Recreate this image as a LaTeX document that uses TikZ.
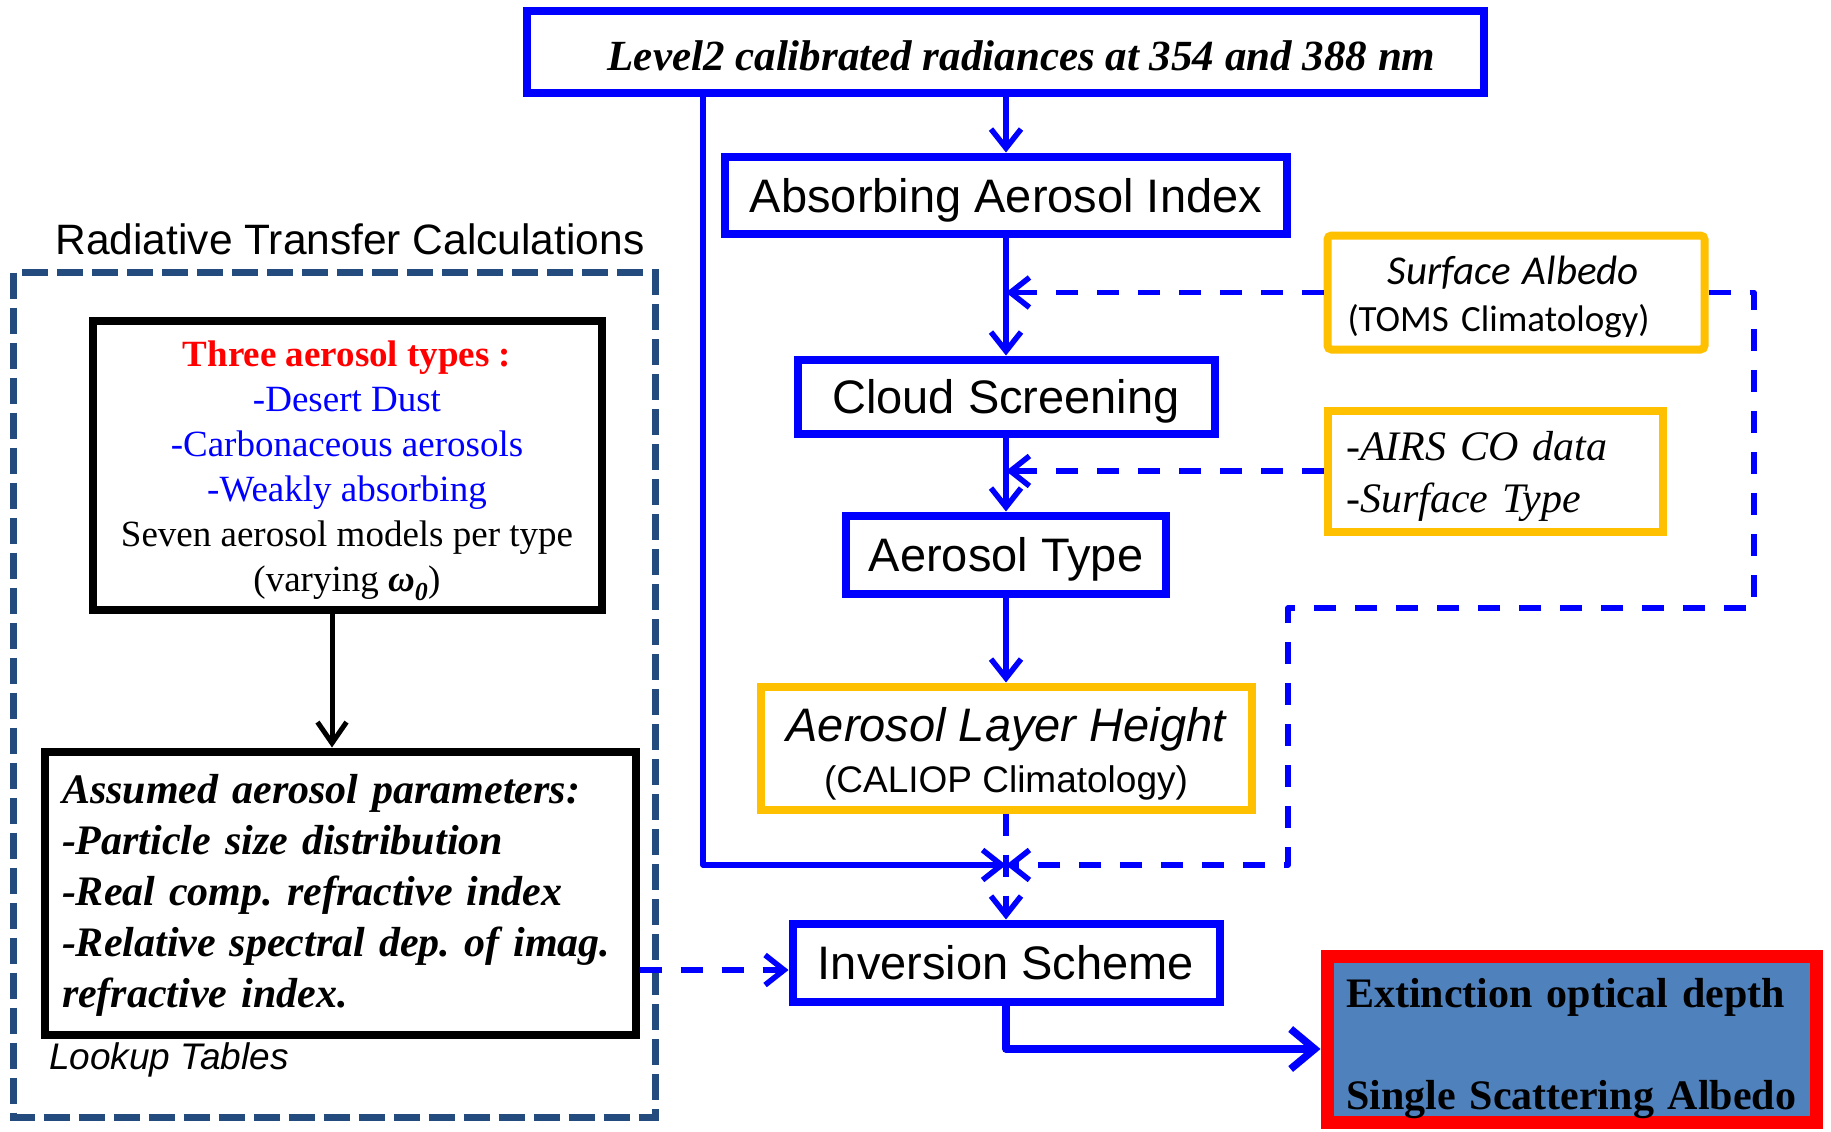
\documentclass[tikz,border=0pt]{standalone}
\usepackage{fontspec}
\setmainfont{Liberation Serif}
\newfontfamily\arialf{Liberation Sans}
\newfontfamily\calibrif{Carlito}
\usetikzlibrary{arrows.meta}
\definecolor{boxblue}{RGB}{0,0,255}
\definecolor{orng}{RGB}{255,192,0}
\definecolor{navyd}{RGB}{36,75,125}
\definecolor{steelb}{RGB}{79,129,189}
\definecolor{redc}{RGB}{255,0,0}
\frenchspacing
\begin{document}
\begin{tikzpicture}[x=1pt,y=-1pt,
  bluebox/.style={draw=boxblue, line width=8pt, fill=white, inner sep=0pt, text depth=0pt, font=\arialf\fontsize{47}{56}\selectfont},
  orbox/.style={draw=orng, line width=8pt, fill=white, inner sep=0pt},
  kbox/.style={draw=black, line width=8pt, fill=white, inner sep=0pt},
  conn/.style={draw=boxblue, line width=5.5pt, -{Straight Barb[length=19pt,width=30pt]}},
  dconn/.style={conn, line width=5.5pt, dash pattern=on 22pt off 19pt},
  bigconn/.style={draw=boxblue, line width=7.5pt, line join=round, -{Straight Barb[length=24pt,width=40pt]}},
  karrow/.style={draw=black, line width=5pt, -{Straight Barb[length=21pt,width=29pt]}}
]
\useasboundingbox (0,0) rectangle (1831,1132);
\fill[white] (0,0) rectangle (1831,1132);

% left dashed frame
\draw[navyd, line width=6.5pt, dash pattern=on 26pt off 9pt] (13.5,272.5) rectangle (655.5,1117.5);
\node[font=\arialf\fontsize{42.5}{50}\selectfont] (rtc) at (350,239) {Radiative Transfer Calculations};

% main column
\node[bluebox, minimum width=957pt, minimum height=82pt, text height=37pt, font=\bfseries\itshape\fontsize{43}{50}\selectfont] (top) at (1005.5,52) {\hspace*{32pt}Level2 calibrated radiances at 354 and 388 nm};
\node[bluebox, minimum width=562pt, minimum height=77pt] (aai) at (1006,195) {Absorbing Aerosol Index};
\node[bluebox, minimum width=417pt, minimum height=74pt] (cloud) at (1006,396.5) {Cloud Screening};
\node[bluebox, minimum width=320pt, minimum height=78pt] (atype) at (1006,554.5) {Aerosol Type};
\node[orbox, minimum width=491pt, minimum height=123pt, align=center, font=\arialf\fontsize{47}{51}\selectfont] (alh) at (1006,748) {\rule{0pt}{46pt}{\itshape Aerosol Layer Height}\\{\fontsize{37}{51}\selectfont (CALIOP Climatology)}};
\node[bluebox, minimum width=427pt, minimum height=78pt] (inv) at (1006,962.5) {Inversion Scheme};

% side inputs
\node[orbox, rounded corners=4pt, minimum width=377pt, minimum height=114pt, text width=337pt, inner xsep=20pt, align=left, font=\calibrif\fontsize{37}{47}\selectfont] (sa) at (1516,292.5) {\rule{0pt}{37pt}\hspace*{40pt}{\itshape\fontsize{41}{47}\selectfont Surface Albedo}\\(TOMS Climatology)};
\node[orbox, minimum width=335pt, minimum height=121pt, text width=298pt, inner xsep=18.5pt, align=left, font=\itshape\fontsize{42}{52}\selectfont] (airs) at (1495,471) {\rule{0pt}{41pt}-AIRS CO data\\-Surface Type};

% output
\node[draw=redc, line width=13pt, fill=steelb, minimum width=489pt, minimum height=166pt, text width=451pt, inner xsep=19pt, inner ysep=0pt, align=left, font=\bfseries\fontsize{42}{102}\selectfont] (out) at (1571.5,1039) {\rule{0pt}{48pt}Extinction optical depth\\Single Scattering Albedo};

% left boxes
\node[kbox, minimum width=509pt, minimum height=289pt, align=center, font=\fontsize{37}{45}\selectfont] (box1) at (347,465) {\rule{0pt}{37pt}\textcolor{redc}{\bfseries Three aerosol types :}\\\textcolor{boxblue}{-Desert Dust}\\\textcolor{boxblue}{-Carbonaceous aerosols}\\\textcolor{boxblue}{-Weakly absorbing}\\Seven aerosol models per type\\(varying {\bfseries\itshape ω\textsubscript{0}})};
\node[kbox, minimum width=591pt, minimum height=283pt, text width=556pt, inner xsep=17.5pt, align=left, font=\bfseries\itshape\fontsize{42}{51}\selectfont] (box2) at (340,893) {\rule{0pt}{33pt}Assumed aerosol parameters:\\-Particle size distribution\\-Real comp. refractive index\\-Relative spectral dep. of imag.\\refractive index.};
\node[anchor=west, inner sep=0pt, font=\arialf\itshape\fontsize{37}{40}\selectfont] (lut) at (49,1060) {Lookup Tables};

% coordinates
\coordinate (sa1) at (1754,292.5);
\coordinate (sa2) at (1754,608);
\coordinate (sa3) at (1288,608);
\coordinate (sa4) at (1288,865);
\coordinate (jn) at (1006,865);
\coordinate (lvb) at (703,865);
\coordinate (lt) at (639,970);
\coordinate (oc) at (1006,1049);
\coordinate (ka) at (332,0);

% connectors
\draw[conn] (top.south -| aai.north) -- (aai.north);
\draw[conn] (aai.south) -- (cloud.north);
\draw[conn] (cloud.south) -- (atype.north);
\draw[conn] (atype.south) -- (alh.north);
\draw[dconn] (sa.west) -- (sa.west -| aai.south);
\draw[dconn] (airs.west) -- (airs.west -| cloud.south);
\draw[dconn, line join=round] (sa.east) -- (sa1) -- (sa2) -- (sa3) -- (sa4) -- (jn);
\draw[conn, line join=round] (top.south -| lvb) -- (lvb) -- (jn);
\draw[dconn] (alh.south) -- (inv.north);
\draw[dconn] (box2.east |- lt) -- (inv.west |- lt);
\draw[bigconn] (inv.south) -- (oc) -- (oc -| out.west);
\draw[karrow] (box1.south -| ka) -- (box2.north -| ka);
\end{tikzpicture}
\end{document}
